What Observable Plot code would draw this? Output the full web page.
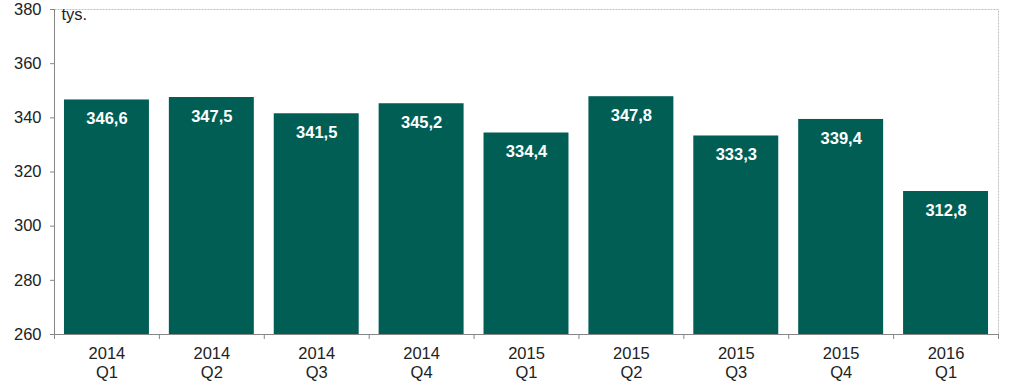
<!DOCTYPE html>
<html>
<head>
<meta charset="utf-8">
<script src="https://cdn.jsdelivr.net/npm/d3@7"></script>
<script src="https://cdn.jsdelivr.net/npm/@observablehq/plot@0.6"></script>
<style>
  html, body { margin: 0; padding: 0; background: #fff; }
  svg { display: block; }
</style>
</head>
<body>
<div id="chart"></div>
<script>
const years = ["2014", "2014", "2014", "2014", "2015", "2015", "2015", "2015", "2016"];
const quarters = ["Q1", "Q2", "Q3", "Q4", "Q1", "Q2", "Q3", "Q4", "Q1"];
const values = [346.6, 347.5, 341.5, 345.2, 334.4, 347.8, 333.3, 339.4, 312.8];
const yTicks = [260, 280, 300, 320, 340, 360, 380];
const unitLabel = "tys.";

const data = years.map((y, i) => ({ key: y + "\n" + quarters[i], value: values[i] }));
const keys = data.map(d => d.key);

const W = 1018, H = 385;
const mL = 54, mR = 20, mT = 9, mB = 51;
const step = (W - mL - mR) / keys.length;
const font = "'Liberation Sans', Arial, sans-serif";
const axisColor = "#868686";
const fs = 16.5;

const chart = Plot.plot({
  width: W,
  height: H,
  marginLeft: mL,
  marginRight: mR,
  marginTop: mT,
  marginBottom: mB,
  style: { fontFamily: font, fontSize: fs + "px", color: "#222", background: "#fff" },
  x: { domain: keys, paddingInner: 0.19, paddingOuter: 0.095, round: false, axis: null, label: null },
  y: { domain: [260, 380], axis: null, label: null },
  marks: [
    Plot.frame({ stroke: "#c0c0c0", strokeDasharray: "2,1" }),
    Plot.barY(data, { x: "key", y1: 260, y2: "value", fill: "#005e55" }),
    Plot.text(data, {
      x: "key", y: "value",
      text: d => d.value.toFixed(1).replace(".", ","),
      dy: 19, fill: "white", fontWeight: "bold", fontSize: fs
    }),
    Plot.text([unitLabel], {
      frameAnchor: "top-left", dx: 7, dy: -1, textAnchor: "start", lineAnchor: "top", fontSize: fs
    }),
    Plot.axisY({ ticks: yTicks, tickSize: 4, tickPadding: 9, stroke: axisColor, fontSize: fs, fill: "#222", label: null }),
    Plot.ruleX([keys[0]], { x: d => d, dx: -step / 2, stroke: axisColor }),
    Plot.ruleY([260], { stroke: axisColor }),
    Plot.ruleX(keys, { x: d => d, y1: 260, y2: 260, insetBottom: -5, dx: -step / 2, stroke: axisColor }),
    Plot.ruleX([keys[keys.length - 1]], { x: d => d, y1: 260, y2: 260, insetBottom: -5, dx: step / 2, stroke: axisColor }),
    Plot.axisX({ tickSize: 0, tickPadding: 11, lineHeight: 1.15, fontSize: fs, fill: "#222", label: null })
  ]
});
document.getElementById("chart").appendChild(chart);
</script>
</body>
</html>
